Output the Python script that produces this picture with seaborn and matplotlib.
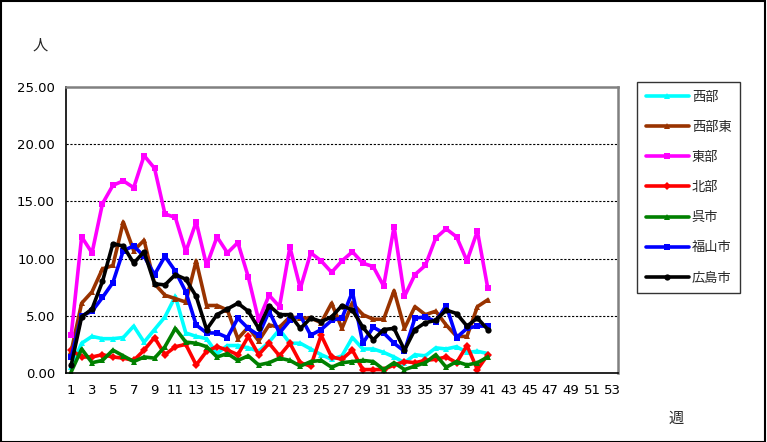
import matplotlib
matplotlib.use("Agg")
import matplotlib.pyplot as plt
import seaborn as sns
import pandas as pd
import numpy as np

weeks = list(range(1, 42))
series_names = ["西部", "西部東", "東部", "北部", "呉市", "福山市", "広島市"]
colors = ["#00FFFF", "#993300", "#FF00FF", "#FF0000", "#008000", "#0000FF", "#000000"]
markers = ["^", "^", "s", "D", "^", "s", "o"]

seibu = [0.5, 2.6, 3.2, 3.0, 3.0, 3.1, 4.1, 2.7, 3.8, 4.9, 6.7, 3.5, 3.2, 3.0, 1.7, 2.4, 2.4,
         2.2, 1.9, 2.7, 3.8, 2.6, 2.6, 2.1, 1.6, 1.2, 1.5, 3.1, 2.1, 2.1, 1.8, 1.4, 0.9,
         1.6, 1.5, 2.2, 2.1, 2.3, 1.8, 1.9, 1.7]
seibu_higashi = [1.9, 6.1, 7.1, 9.1, 9.4, 13.2, 10.7, 11.6, 7.8, 6.8, 6.5, 6.2, 9.8, 5.9, 5.9, 5.5, 3.0,
                 4.0, 2.8, 4.2, 4.0, 4.9, 4.8, 4.8, 4.4, 6.1, 3.9, 6.1, 5.1, 4.7, 4.7, 7.2, 3.9,
                 5.8, 5.1, 5.4, 4.2, 3.2, 3.2, 5.8, 6.4]
toubu = [3.3, 11.9, 10.5, 14.8, 16.4, 16.8, 16.2, 19.0, 17.9, 13.9, 13.6, 10.6, 13.2, 9.4, 11.9, 10.5, 11.4,
         8.4, 4.6, 6.8, 5.8, 11.0, 7.4, 10.5, 9.8, 8.8, 9.8, 10.6, 9.6, 9.3, 7.6, 12.8, 6.7,
         8.6, 9.4, 11.8, 12.6, 11.9, 9.8, 12.4, 7.4]
hokubu = [2.0, 1.4, 1.4, 1.6, 1.4, 1.3, 1.1, 2.0, 3.1, 1.6, 2.3, 2.5, 0.7, 1.9, 2.3, 2.0, 1.6,
          3.2, 1.6, 2.6, 1.5, 2.6, 0.9, 0.6, 3.3, 1.4, 1.2, 2.0, 0.3, 0.3, 0.3, 0.7, 1.0,
          0.9, 1.1, 1.2, 1.4, 0.9, 2.4, 0.3, 1.6]
kure = [0.1, 2.1, 0.9, 1.1, 2.0, 1.5, 1.0, 1.4, 1.3, 2.3, 3.9, 2.7, 2.6, 2.3, 1.4, 1.7, 1.1,
        1.5, 0.7, 0.9, 1.3, 1.1, 0.6, 1.0, 1.1, 0.5, 0.9, 1.0, 1.1, 1.0, 0.3, 0.9, 0.3,
        0.6, 0.9, 1.6, 0.5, 1.0, 0.7, 0.9, 1.4]
fukuyama = [1.4, 5.0, 5.4, 6.6, 7.9, 10.7, 11.1, 10.2, 8.6, 10.2, 8.9, 7.1, 4.2, 3.5, 3.5, 3.1, 4.8,
            3.9, 3.3, 5.4, 3.5, 4.6, 5.0, 3.3, 3.8, 4.6, 4.8, 7.1, 2.6, 4.0, 3.5, 2.6, 1.9,
            4.8, 4.9, 4.5, 5.9, 3.1, 3.9, 4.1, 4.1]
hiroshima = [0.7, 4.9, 5.6, 8.0, 11.3, 11.1, 9.6, 10.6, 7.8, 7.7, 8.6, 8.2, 6.7, 3.8, 5.1, 5.6, 6.1,
             5.4, 3.9, 5.9, 5.1, 5.1, 3.9, 4.8, 4.5, 4.9, 5.9, 5.5, 4.0, 2.9, 3.8, 3.9, 2.0,
             3.8, 4.4, 4.6, 5.5, 5.2, 4.1, 4.8, 3.8]

all_values = [seibu, seibu_higashi, toubu, hokubu, kure, fukuyama, hiroshima]

x_tick_labels = [str(w) for w in range(1, 54, 2)]
y_ticks = [0, 5, 10, 15, 20, 25]

frames = []
for name, vals in zip(series_names, all_values):
    frames.append(pd.DataFrame({"week": weeks, "value": vals, "series": name}))
df = pd.concat(frames, ignore_index=True)

sns.set_theme(style="white")
plt.rcParams['font.family'] = ['Noto Sans CJK JP', 'DejaVu Sans']

fig = plt.figure(figsize=(7.67, 4.42), dpi=100)
ax = fig.add_axes([66 / 767, 1 - 373 / 442, (618 - 66) / 767, (373 - 87) / 442])

sns.lineplot(data=df, x="week", y="value", hue="series", style="series",
             hue_order=series_names, style_order=series_names,
             palette=dict(zip(series_names, colors)),
             markers=dict(zip(series_names, markers)),
             dashes=False, linewidth=2.6, markersize=4.5, markeredgewidth=0,
             ax=ax, legend=True)

ax.set_xlim(0.5, 53.5)
ax.set_ylim(0, 25)
ax.set_yticks(y_ticks)
ax.set_yticklabels([f"{v:.2f}" for v in y_ticks], fontsize=9.5, family='DejaVu Sans')
ax.set_yticks(np.arange(0, 26, 1), minor=True)
ax.set_xticks(range(1, 54, 2))
ax.set_xticklabels(x_tick_labels, fontsize=9.5, family='DejaVu Sans')
ax.set_xticks(range(1, 54), minor=True)
ax.tick_params(axis='both', which='both', direction='in', length=4, width=0.8, colors='black')
ax.tick_params(axis='x', which='major', pad=8)
ax.tick_params(axis='y', which='major', pad=8)
ax.set_xlabel("")
ax.set_ylabel("")

for yv in [5, 10, 15, 20]:
    ax.axhline(yv, color='black', linestyle=(0, (2, 1.5)), linewidth=0.8, zorder=0)

for side in ['left', 'bottom']:
    ax.spines[side].set_color('black')
    ax.spines[side].set_linewidth(1.2)
for side in ['top', 'right']:
    ax.spines[side].set_color('#808080')
    ax.spines[side].set_linewidth(1.8)
    ax.spines[side].set_visible(True)

handles, labels = ax.get_legend_handles_labels()
ax.get_legend().remove()
leg = fig.legend(handles, labels, loc='upper left',
                 bbox_to_anchor=(637 / 767, 1 - 82 / 442), frameon=True,
                 fontsize=9.5, handlelength=3.3, labelspacing=1.3,
                 borderpad=0.65, handletextpad=0.2, fancybox=False,
                 borderaxespad=0)
leg.get_frame().set_edgecolor('black')
leg.get_frame().set_linewidth(1.0)

fig.text(40 / 767, 1 - 45 / 442, "人", fontsize=11, ha='center', va='center')
fig.text(676 / 767, 1 - 418 / 442, "週", fontsize=11, ha='center', va='center')

border = plt.Rectangle((0.001, 0.001), 0.997, 0.996, transform=fig.transFigure,
                       fill=False, edgecolor='black', linewidth=1.5)
fig.patches.append(border)

fig.savefig("out.png", dpi=100, facecolor='white')
